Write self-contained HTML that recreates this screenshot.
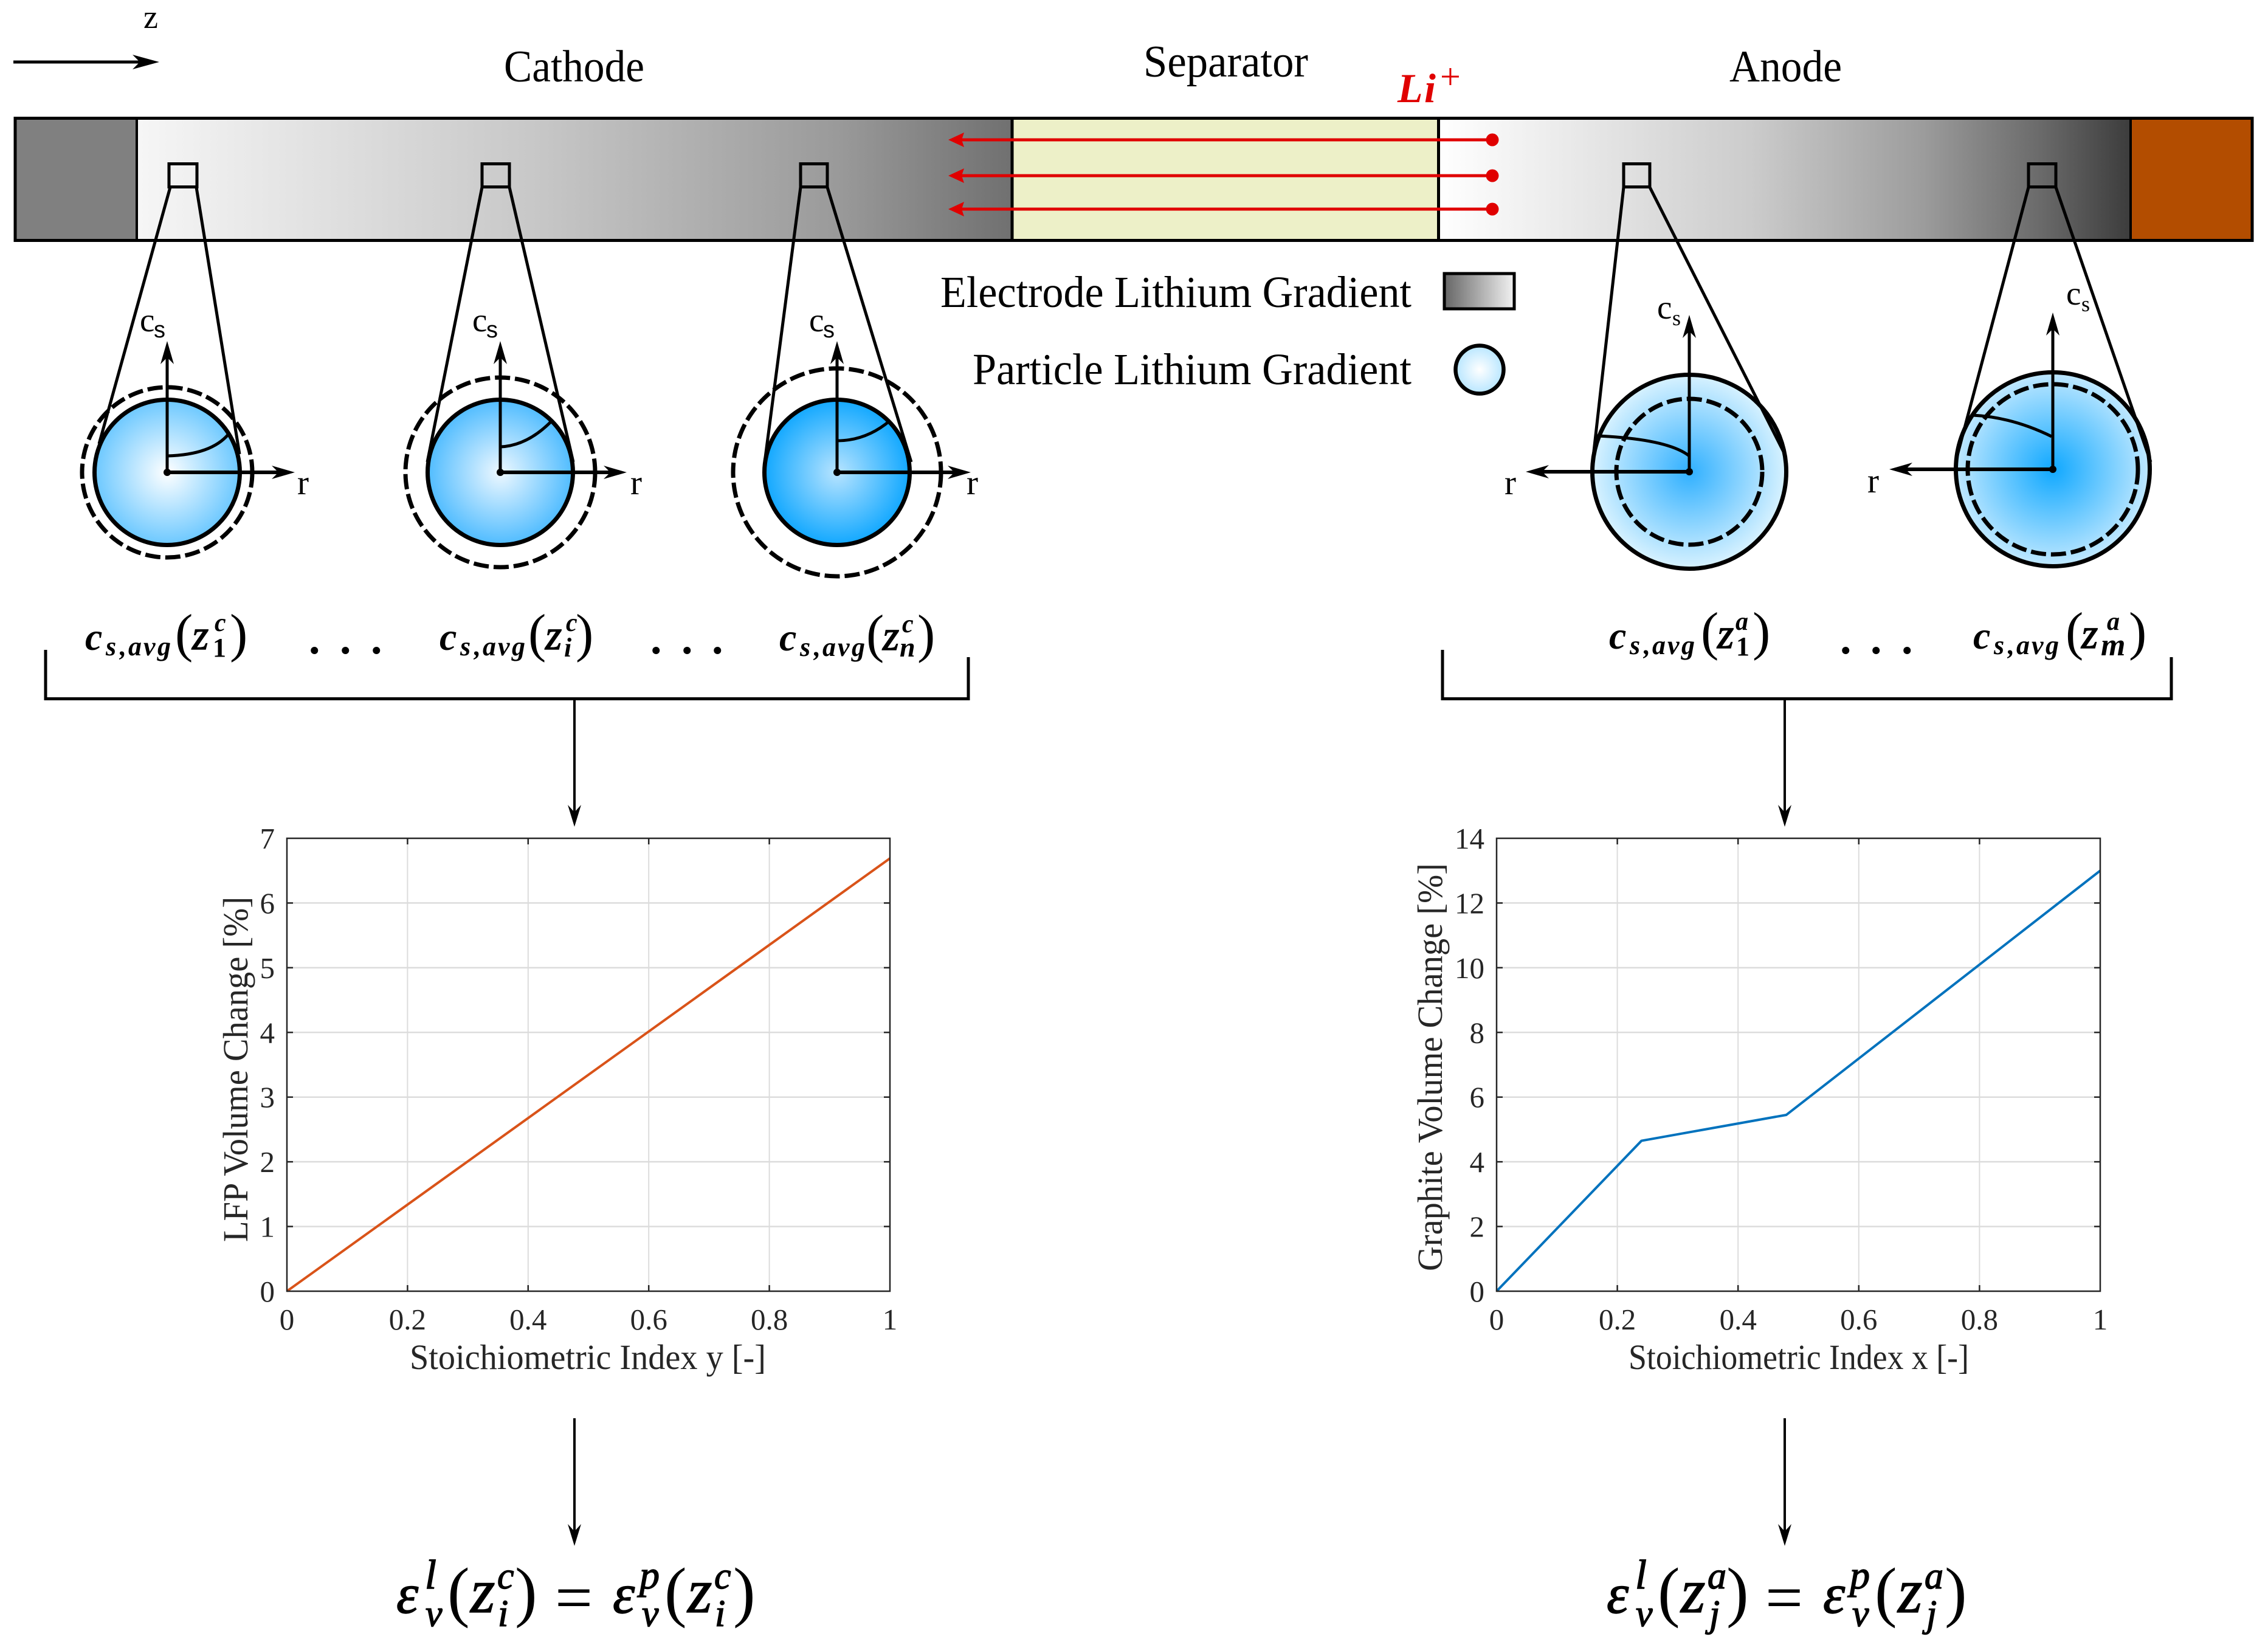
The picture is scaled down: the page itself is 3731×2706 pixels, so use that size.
<!DOCTYPE html>
<html lang="en">
<head>
<meta charset="utf-8">
<title>Lithium gradient and volume change schematic</title>
<style>
html,body{margin:0;padding:0;background:#fff;}
svg{display:block;}
text{font-family:"Liberation Serif",serif;fill:#000;}
.mi{font-style:italic;font-weight:bold;}
.up{font-style:normal;font-weight:normal;}
.bold{font-style:normal;font-weight:bold;}
.mz{font-style:italic;font-weight:normal;stroke:#000;stroke-width:1.4px;}
.axis-text{fill:#262626;}
</style>
</head>
<body>
<svg id="figure" xmlns="http://www.w3.org/2000/svg" width="3731" height="2706" viewBox="0 0 3731 2706">
<defs>
  <linearGradient id="cathodeGrad" x1="0" y1="0" x2="1" y2="0">
    <stop offset="0" stop-color="#f6f6f6"/><stop offset=".45" stop-color="#c8c8c8"/><stop offset=".8" stop-color="#9a9a9a"/><stop offset="1" stop-color="#707070"/>
  </linearGradient>
  <linearGradient id="anodeGrad" x1="0" y1="0" x2="1" y2="0">
    <stop offset="0" stop-color="#ffffff"/><stop offset=".45" stop-color="#cccccc"/><stop offset=".7" stop-color="#9c9c9c"/><stop offset=".87" stop-color="#6a6a6a"/><stop offset="1" stop-color="#3c3c3c"/>
  </linearGradient>
  <linearGradient id="legendGrad" x1="0" y1="0" x2="1" y2="0">
    <stop offset="0" stop-color="#666666"/><stop offset="1" stop-color="#f2f2f2"/>
  </linearGradient>
  <radialGradient id="pc1"><stop offset="0" stop-color="#ffffff"/><stop offset="1" stop-color="#6cc8ff"/></radialGradient>
  <radialGradient id="pc2"><stop offset="0" stop-color="#eef8ff"/><stop offset="1" stop-color="#50bcff"/></radialGradient>
  <radialGradient id="pc3"><stop offset="0" stop-color="#b8e4ff"/><stop offset="1" stop-color="#12a8ff"/></radialGradient>
  <radialGradient id="pa1"><stop offset="0" stop-color="#30b0ff"/><stop offset="1" stop-color="#d8f2ff"/></radialGradient>
  <radialGradient id="pa2"><stop offset="0" stop-color="#10a8ff"/><stop offset="1" stop-color="#c0e8ff"/></radialGradient>
  <radialGradient id="pleg"><stop offset="0" stop-color="#ffffff"/><stop offset="1" stop-color="#b8e6ff"/></radialGradient>
  <marker id="ah" markerUnits="userSpaceOnUse" markerWidth="40" markerHeight="24" refX="28" refY="12" orient="auto">
    <path d="M0 1L38 12L0 23L11 12Z" fill="#000"/>
  </marker>
  <marker id="ahLong" markerUnits="userSpaceOnUse" markerWidth="46" markerHeight="26" refX="34" refY="13" orient="auto">
    <path d="M0 1L44 13L0 25L12 13Z" fill="#000"/>
  </marker>
  <marker id="ahThin" markerUnits="userSpaceOnUse" markerWidth="38" markerHeight="24" refX="28" refY="12" orient="auto">
    <path d="M0 1L36 12L0 23L12 12Z" fill="#000"/>
  </marker>
  <marker id="ahRed" markerUnits="userSpaceOnUse" markerWidth="26" markerHeight="26" refX="16" refY="13" orient="auto">
    <path d="M0 1L26 13L0 25L4 13Z" fill="#e00000"/>
  </marker>
</defs>

<!-- Direction -->
<g>
  <text x="236" y="46" font-size="54">z</text>
  <line x1="22" y1="102" x2="252" y2="102" stroke="#000" stroke-width="5" marker-end="url(#ahLong)"/>
</g>

<!-- Region titles -->
<text x="829" y="134" font-size="74" textLength="231" lengthAdjust="spacingAndGlyphs">Cathode</text>
<text x="1881" y="126" font-size="74" textLength="271" lengthAdjust="spacingAndGlyphs">Separator</text>
<text x="2845" y="134" font-size="74" textLength="185" lengthAdjust="spacingAndGlyphs">Anode</text>
<text font-size="68" style="fill:#e00000"><tspan class="mi" x="2299" y="168" style="fill:#e00000">L</tspan><tspan class="mi" x="2343" y="168" style="fill:#e00000">i</tspan><tspan class="up" x="2369" y="146" font-size="60" style="fill:#e00000">+</tspan></text>

<!-- Cell bar -->
<g>
  <rect x="25" y="194.5" width="200" height="201" fill="#808080"/>
  <rect x="225" y="194.5" width="1440" height="201" fill="url(#cathodeGrad)"/>
  <rect x="1665" y="194.5" width="701.5" height="201" fill="#edf0c8"/>
  <rect x="2366.5" y="194.5" width="1138.5" height="201" fill="url(#anodeGrad)"/>
  <rect x="3505" y="194.5" width="200" height="201" fill="#b34d00"/>
  <rect x="25" y="194.5" width="3680" height="201" fill="none" stroke="#000" stroke-width="5"/>
  <line x1="225" y1="194" x2="225" y2="396" stroke="#000" stroke-width="4"/>
  <line x1="1665" y1="194" x2="1665" y2="396" stroke="#000" stroke-width="5"/>
  <line x1="2366.5" y1="194" x2="2366.5" y2="396" stroke="#000" stroke-width="5"/>
  <line x1="3505" y1="194" x2="3505" y2="396" stroke="#000" stroke-width="4"/>
</g>

<!-- Li+ arrows -->
<g stroke="#e00000" stroke-width="5" fill="#e00000">
  <line x1="2455" y1="230" x2="1570" y2="230" marker-end="url(#ahRed)"/>
  <line x1="2455" y1="289" x2="1570" y2="289" marker-end="url(#ahRed)"/>
  <line x1="2455" y1="344" x2="1570" y2="344" marker-end="url(#ahRed)"/>
  <circle cx="2455" cy="230" r="10.5" stroke="none"/>
  <circle cx="2455" cy="289" r="10.5" stroke="none"/>
  <circle cx="2455" cy="344" r="10.5" stroke="none"/>
</g>

<!-- Legend -->
<g>
  <text x="1547" y="505" font-size="73" textLength="775" lengthAdjust="spacingAndGlyphs">Electrode Lithium Gradient</text>
  <rect x="2376" y="450" width="115" height="58" fill="url(#legendGrad)" stroke="#000" stroke-width="5"/>
  <text x="1600" y="632" font-size="73" textLength="722" lengthAdjust="spacingAndGlyphs">Particle Lithium Gradient</text>
  <circle cx="2434" cy="608" r="39.5" fill="url(#pleg)" stroke="#000" stroke-width="6.5"/>
</g>

<!-- Cathode particles -->
<g fill="none" stroke="#000">
  <rect x="278" y="269.5" width="46" height="38" fill="none" stroke-width="5"/>
  <circle cx="275" cy="777" r="119.5" fill="url(#pc1)" stroke-width="7"/>
  <circle cx="275" cy="777" r="140" stroke-width="7" stroke-dasharray="25 8"/>
  <line x1="280" y1="308" x2="163" y2="730" stroke-width="5"/>
  <line x1="323" y1="308" x2="394" y2="747" stroke-width="5"/>
  <path d="M275 750Q348 748 376 714" stroke-width="5"/>
  <line x1="275" y1="777" x2="275" y2="571" stroke-width="5" marker-end="url(#ah)"/>
  <line x1="275" y1="777" x2="475" y2="777" stroke-width="6" marker-end="url(#ah)"/>
  <circle cx="275" cy="777" r="6" fill="#000" stroke="none"/>
</g>
<g fill="none" stroke="#000">
  <rect x="793" y="269.5" width="45" height="38" stroke-width="5"/>
  <circle cx="823" cy="777" r="119.5" fill="url(#pc2)" stroke-width="7"/>
  <circle cx="823" cy="777" r="156" stroke-width="7" stroke-dasharray="25 8"/>
  <line x1="793" y1="308" x2="703" y2="760" stroke-width="5"/>
  <line x1="838" y1="308" x2="943" y2="760" stroke-width="5"/>
  <path d="M823 735Q868 733 908 692" stroke-width="5"/>
  <line x1="823" y1="777" x2="823" y2="571" stroke-width="5" marker-end="url(#ah)"/>
  <line x1="823" y1="777" x2="1021" y2="777" stroke-width="6" marker-end="url(#ah)"/>
  <circle cx="823" cy="777" r="6" fill="#000" stroke="none"/>
</g>
<g fill="none" stroke="#000">
  <rect x="1317" y="269.5" width="44" height="38" stroke-width="5"/>
  <circle cx="1377" cy="777" r="119.5" fill="url(#pc3)" stroke-width="7"/>
  <circle cx="1377" cy="777" r="171" stroke-width="7" stroke-dasharray="25 8"/>
  <line x1="1317" y1="308" x2="1258" y2="760" stroke-width="5"/>
  <line x1="1361" y1="308" x2="1499" y2="760" stroke-width="5"/>
  <path d="M1377 725Q1425 725 1464 692" stroke-width="5"/>
  <line x1="1377" y1="777" x2="1377" y2="571" stroke-width="5" marker-end="url(#ah)"/>
  <line x1="1377" y1="777" x2="1587" y2="777" stroke-width="6" marker-end="url(#ah)"/>
  <circle cx="1377" cy="777" r="6" fill="#000" stroke="none"/>
</g>

<!-- Anode particles -->
<g fill="none" stroke="#000">
  <rect x="2671" y="269.5" width="43" height="38" stroke-width="5"/>
  <circle cx="2779" cy="776" r="159.5" fill="url(#pa1)" stroke-width="7"/>
  <circle cx="2779" cy="776" r="120" stroke-width="7" stroke-dasharray="25 8"/>
  <line x1="2671" y1="308" x2="2620" y2="760" stroke-width="5"/>
  <line x1="2714" y1="308" x2="2935" y2="745" stroke-width="5"/>
  <path d="M2779 750Q2743 722 2627 717" stroke-width="5"/>
  <line x1="2779" y1="776" x2="2779" y2="528" stroke-width="5" marker-end="url(#ah)"/>
  <line x1="2779" y1="776" x2="2520" y2="776" stroke-width="6" marker-end="url(#ah)"/>
  <circle cx="2779" cy="776" r="6" fill="#000" stroke="none"/>
</g>
<g fill="none" stroke="#000">
  <rect x="3337" y="269.5" width="45" height="38" stroke-width="5"/>
  <circle cx="3377" cy="772" r="159.5" fill="url(#pa2)" stroke-width="7"/>
  <circle cx="3377" cy="772" r="140" stroke-width="7" stroke-dasharray="25 8"/>
  <line x1="3337" y1="308" x2="3217" y2="760" stroke-width="5"/>
  <line x1="3382" y1="308" x2="3538" y2="760" stroke-width="5"/>
  <path d="M3375 718Q3310 686 3245 683" stroke-width="5"/>
  <line x1="3377" y1="772" x2="3377" y2="524" stroke-width="5" marker-end="url(#ah)"/>
  <line x1="3377" y1="772" x2="3118" y2="772" stroke-width="6" marker-end="url(#ah)"/>
  <circle cx="3377" cy="772" r="6" fill="#000" stroke="none"/>
</g>

<!-- cs and r axis labels -->
<g>
  <text><tspan x="230" y="545" font-size="55">c</tspan><tspan x="253" y="555" font-size="38" style="font-family:'Liberation Sans',sans-serif">s</tspan></text>
  <text><tspan x="777" y="545" font-size="55">c</tspan><tspan x="800" y="555" font-size="38" style="font-family:'Liberation Sans',sans-serif">s</tspan></text>
  <text><tspan x="1331" y="545" font-size="55">c</tspan><tspan x="1354" y="555" font-size="38" style="font-family:'Liberation Sans',sans-serif">s</tspan></text>
  <text><tspan x="2726" y="524" font-size="55">c</tspan><tspan x="2751" y="535" font-size="36">s</tspan></text>
  <text><tspan x="3399" y="501" font-size="55">c</tspan><tspan x="3424" y="512" font-size="36">s</tspan></text>
  <text x="489" y="813" font-size="57">r</text>
  <text x="1037" y="813" font-size="57">r</text>
  <text x="1590" y="813" font-size="57">r</text>
  <text x="2475" y="813" font-size="57">r</text>
  <text x="3072" y="810" font-size="57">r</text>
</g>

<!-- Average concentration labels -->
<g>
  <text class="mi"><tspan x="140" y="1069" font-size="64">c</tspan><tspan x="174" y="1078" font-size="44">s</tspan><tspan x="197" y="1078" font-size="44">,</tspan><tspan x="211" y="1078" font-size="44">a</tspan><tspan x="236" y="1078" font-size="44">v</tspan><tspan x="259" y="1078" font-size="44">g</tspan><tspan class="up" x="288" y="1071" font-size="88">(</tspan><tspan class="mz" x="316" y="1068" font-size="70">z</tspan><tspan x="353" y="1038" font-size="42">c</tspan><tspan class="bold" x="350" y="1080" font-size="44">1</tspan><tspan class="up" x="378" y="1071" font-size="88">)</tspan></text>
  <text class="bold" font-size="74" x="508 559 610" y="1075">...</text>
  <text class="mi"><tspan x="723" y="1069" font-size="64">c</tspan><tspan x="757" y="1078" font-size="44">s</tspan><tspan x="780" y="1078" font-size="44">,</tspan><tspan x="794" y="1078" font-size="44">a</tspan><tspan x="819" y="1078" font-size="44">v</tspan><tspan x="842" y="1078" font-size="44">g</tspan><tspan class="up" x="869" y="1071" font-size="88">(</tspan><tspan class="mz" x="897" y="1068" font-size="70">z</tspan><tspan x="931" y="1038" font-size="42">c</tspan><tspan x="928" y="1080" font-size="44">i</tspan><tspan class="up" x="947" y="1071" font-size="88">)</tspan></text>
  <text class="bold" font-size="74" x="1070 1121 1171" y="1075">...</text>
  <text class="mi"><tspan x="1282" y="1070" font-size="64">c</tspan><tspan x="1316" y="1079" font-size="44">s</tspan><tspan x="1339" y="1079" font-size="44">,</tspan><tspan x="1353" y="1079" font-size="44">a</tspan><tspan x="1378" y="1079" font-size="44">v</tspan><tspan x="1401" y="1079" font-size="44">g</tspan><tspan class="up" x="1425" y="1072" font-size="88">(</tspan><tspan class="mz" x="1452" y="1069" font-size="70">z</tspan><tspan x="1484" y="1040" font-size="42">c</tspan><tspan x="1480" y="1080" font-size="46">n</tspan><tspan class="up" x="1509" y="1072" font-size="88">)</tspan></text>
</g>
<g>
  <text class="mi"><tspan x="2647" y="1067" font-size="64">c</tspan><tspan x="2681" y="1076" font-size="44">s</tspan><tspan x="2704" y="1076" font-size="44">,</tspan><tspan x="2718" y="1076" font-size="44">a</tspan><tspan x="2743" y="1076" font-size="44">v</tspan><tspan x="2766" y="1076" font-size="44">g</tspan><tspan class="up" x="2798" y="1068" font-size="88">(</tspan><tspan class="mz" x="2825" y="1066" font-size="70">z</tspan><tspan x="2855" y="1036" font-size="42">a</tspan><tspan class="bold" x="2856" y="1078" font-size="44">1</tspan><tspan class="up" x="2883" y="1068" font-size="88">)</tspan></text>
  <text class="bold" font-size="74" x="3027 3077 3128" y="1075">...</text>
  <text class="mi"><tspan x="3246" y="1067" font-size="64">c</tspan><tspan x="3280" y="1076" font-size="44">s</tspan><tspan x="3303" y="1076" font-size="44">,</tspan><tspan x="3317" y="1076" font-size="44">a</tspan><tspan x="3342" y="1076" font-size="44">v</tspan><tspan x="3365" y="1076" font-size="44">g</tspan><tspan class="up" x="3398" y="1068" font-size="88">(</tspan><tspan class="mz" x="3424" y="1066" font-size="70">z</tspan><tspan x="3466" y="1036" font-size="42">a</tspan><tspan x="3456" y="1078" font-size="52">m</tspan><tspan class="up" x="3502" y="1068" font-size="88">)</tspan></text>
</g>

<!-- Brackets and connecting arrows -->
<g fill="none" stroke="#000">
  <path d="M75 1069V1149.5H1593V1081" stroke-width="5"/>
  <path d="M2373 1069V1149.5H3572V1081" stroke-width="5"/>
  <line x1="945" y1="1150" x2="945" y2="1352" stroke-width="4" marker-end="url(#ahThin)"/>
  <line x1="2936" y1="1150" x2="2936" y2="1352" stroke-width="4" marker-end="url(#ahThin)"/>
  <line x1="945" y1="2333" x2="945" y2="2535" stroke-width="4" marker-end="url(#ahThin)"/>
  <line x1="2936" y1="2333" x2="2936" y2="2535" stroke-width="4" marker-end="url(#ahThin)"/>
</g>

<!-- Chart containers -->
<g id="lfp-chart">
  <text class="axis-text" x="674" y="2252" font-size="58" textLength="586" lengthAdjust="spacingAndGlyphs">Stoichiometric Index y [-]</text>
  <text class="axis-text" transform="translate(407,2043) rotate(-90)" x="0" y="0" font-size="58" textLength="568" lengthAdjust="spacingAndGlyphs">LFP Volume Change [%]</text>
</g>
<g id="graphite-chart">
  <text class="axis-text" x="2679" y="2252" font-size="58" textLength="560" lengthAdjust="spacingAndGlyphs">Stoichiometric Index x [-]</text>
  <text class="axis-text" transform="translate(2372,2091) rotate(-90)" x="0" y="0" font-size="58" textLength="671" lengthAdjust="spacingAndGlyphs">Graphite Volume Change [%]</text>
</g>

<!-- Equations -->
<text class="mi"><tspan class="mz" x="652" y="2653" font-size="92">ε</tspan><tspan class="mz" x="699" y="2613" font-size="68">l</tspan><tspan class="mz" x="700" y="2675" font-size="62">v</tspan><tspan class="up" x="736" y="2655" font-size="110">(</tspan><tspan class="mz" x="774" y="2652" font-size="104">z</tspan><tspan class="mz" x="818" y="2613" font-size="62">c</tspan><tspan class="mz" x="819" y="2675" font-size="62">i</tspan><tspan class="up" x="847" y="2655" font-size="110">)</tspan><tspan class="up" x="913" y="2665" font-size="110">=</tspan><tspan class="mz" x="1008" y="2653" font-size="92">ε</tspan><tspan class="mz" x="1052" y="2613" font-size="66">p</tspan><tspan class="mz" x="1056" y="2675" font-size="62">v</tspan><tspan class="up" x="1093" y="2655" font-size="110">(</tspan><tspan class="mz" x="1131" y="2652" font-size="104">z</tspan><tspan class="mz" x="1175" y="2613" font-size="62">c</tspan><tspan class="mz" x="1176" y="2675" font-size="62">i</tspan><tspan class="up" x="1206" y="2655" font-size="110">)</tspan></text>
<text class="mi"><tspan class="mz" x="2643" y="2653" font-size="92">ε</tspan><tspan class="mz" x="2690" y="2613" font-size="68">l</tspan><tspan class="mz" x="2691" y="2675" font-size="62">v</tspan><tspan class="up" x="2727" y="2655" font-size="110">(</tspan><tspan class="mz" x="2765" y="2652" font-size="104">z</tspan><tspan class="mz" x="2809" y="2613" font-size="62">a</tspan><tspan class="mz" x="2812" y="2675" font-size="62">j</tspan><tspan class="up" x="2840" y="2655" font-size="110">)</tspan><tspan class="up" x="2904" y="2665" font-size="110">=</tspan><tspan class="mz" x="2999" y="2653" font-size="92">ε</tspan><tspan class="mz" x="3043" y="2613" font-size="66">p</tspan><tspan class="mz" x="3047" y="2675" font-size="62">v</tspan><tspan class="up" x="3084" y="2655" font-size="110">(</tspan><tspan class="mz" x="3122" y="2652" font-size="104">z</tspan><tspan class="mz" x="3166" y="2613" font-size="62">a</tspan><tspan class="mz" x="3169" y="2675" font-size="62">j</tspan><tspan class="up" x="3199" y="2655" font-size="110">)</tspan></text>
</svg>

<script>
const stoichTicks = [0, 0.2, 0.4, 0.6, 0.8, 1];
const lfpVolumeTicks = [0, 1, 2, 3, 4, 5, 6, 7];
const graphiteVolumeTicks = [0, 2, 4, 6, 8, 10, 12, 14];
const lfpStoich = [0, 1];
const lfpVolume = [0, 6.69];
const graphiteStoich = [0, 0.24, 0.48, 1];
const graphiteVolume = [0, 4.65, 5.45, 13];

const SVGNS = 'http://www.w3.org/2000/svg';

function svgEl(tag, attrs, parent) {
  const el = document.createElementNS(SVGNS, tag);
  for (const k in attrs) el.setAttribute(k, attrs[k]);
  parent.appendChild(el);
  return el;
}

function drawChart(groupId, box, xTicks, yTicks, xs, ys, color) {
  const g = document.getElementById(groupId);
  const xMin = xTicks[0], xMax = xTicks[xTicks.length - 1];
  const yMin = yTicks[0], yMax = yTicks[yTicks.length - 1];
  const sx = function (v) { return box.left + (v - xMin) / (xMax - xMin) * (box.right - box.left); };
  const sy = function (v) { return box.bottom - (v - yMin) / (yMax - yMin) * (box.bottom - box.top); };

  xTicks.forEach(function (t) {
    const x = sx(t);
    if (t !== xMin && t !== xMax) {
      const grid = svgEl('line', { x1: x, x2: x, y1: box.top, y2: box.bottom, stroke: '#dcdcdc', 'stroke-width': 2 }, g);
      
      
      const t1 = svgEl('line', { x1: x, x2: x, y1: box.bottom, y2: box.bottom - 10, stroke: '#262626', 'stroke-width': 2.5 }, g);
      
      
      const t2 = svgEl('line', { x1: x, x2: x, y1: box.top, y2: box.top + 10, stroke: '#262626', 'stroke-width': 2.5 }, g);
      
      
    }
    const label = svgEl('text', { x: x, y: 2187, 'font-size': 49, 'text-anchor': 'middle', class: 'axis-text' }, g);
    
    
    label.textContent = String(t);
  });

  yTicks.forEach(function (t) {
    const y = sy(t);
    if (t !== yMin && t !== yMax) {
      const grid = svgEl('line', { x1: box.left, x2: box.right, y1: y, y2: y, stroke: '#dcdcdc', 'stroke-width': 2.5 }, g);
      
      
      const t1 = svgEl('line', { x1: box.left, x2: box.left + 10, y1: y, y2: y, stroke: '#262626', 'stroke-width': 2.5 }, g);
      
      
      const t2 = svgEl('line', { x1: box.right, x2: box.right - 10, y1: y, y2: y, stroke: '#262626', 'stroke-width': 2.5 }, g);
      
      
    }
    const label = svgEl('text', { x: box.left - 20, y: y + 17, 'font-size': 49, 'text-anchor': 'end', class: 'axis-text' }, g);
    
    
    label.textContent = String(t);
  });

  const pts = xs.map(function (v, i) { return sx(v) + ',' + sy(ys[i]); }).join(' ');
  const line = svgEl('polyline', { points: pts, fill: 'none', stroke: color, 'stroke-width': 4, 'stroke-linejoin': 'round' }, g);
  
  

  const frame = svgEl('rect', { x: box.left, y: box.top, width: box.right - box.left, height: box.bottom - box.top, fill: 'none', stroke: '#262626', 'stroke-width': 2.5 }, g);
  
  
}

drawChart('lfp-chart', { left: 472, right: 1464, top: 1379, bottom: 2124 }, stoichTicks, lfpVolumeTicks, lfpStoich, lfpVolume, '#d95319');
drawChart('graphite-chart', { left: 2462, right: 3455, top: 1379, bottom: 2124 }, stoichTicks, graphiteVolumeTicks, graphiteStoich, graphiteVolume, '#0072bd');
</script>
</body>
</html>
